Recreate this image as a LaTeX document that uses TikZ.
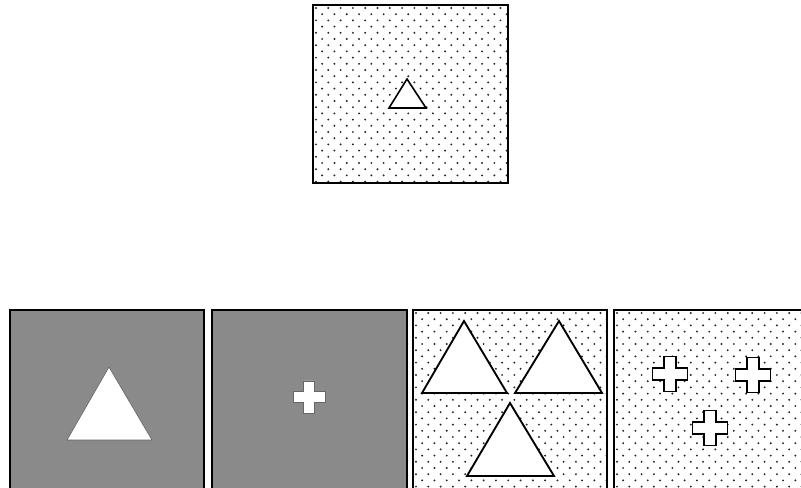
\documentclass[tikz,border=0pt]{standalone}
\begin{document}
\begin{tikzpicture}[x=0.75pt,y=-0.75pt,
  boxline/.style={draw=black,line width=1.4pt},
  graybox/.style={fill=black!46,draw=black,line width=1.4pt},
  outline/.style={draw=black,fill=white,line width=1.4pt,line join=miter},
  whiteshape/.style={fill=white,draw=black!60,line width=0.5pt}]
\useasboundingbox (0,0) rectangle (801,488);
\clip (0,0) rectangle (801,488);
\newcommand\dotbox[4]{%
  \begin{scope}
  \clip (#1,#2) rectangle (#3,#4);
  \foreach \r in {0,...,30}{
    \pgfmathsetmacro\yy{#2+3+\r*6.2}
    \pgfmathsetmacro\off{mod(\r,2)*6.15}
    \foreach \c in {0,...,17}{
      \fill[black!85] ({#1+3+\off+\c*12.3},\yy) circle (0.8pt);
    }
  }
  \end{scope}}
\newcommand\crosspath[4]{% cx cy halflength halfwidth
  ({#1-#4},{#2-#3}) -- ({#1+#4},{#2-#3}) -- ({#1+#4},{#2-#4}) -- ({#1+#3},{#2-#4})
  -- ({#1+#3},{#2+#4}) -- ({#1+#4},{#2+#4}) -- ({#1+#4},{#2+#3}) -- ({#1-#4},{#2+#3})
  -- ({#1-#4},{#2+#4}) -- ({#1-#3},{#2+#4}) -- ({#1-#3},{#2-#4}) -- ({#1-#4},{#2-#4}) -- cycle}
% top box
\dotbox{313}{5}{508}{183}
\draw[boxline] (313,5) rectangle (508,183);
\draw[outline,line width=1.2pt] (407,79) -- (426,108) -- (389,108) -- cycle;
% bottom box 1
\draw[graybox] (10,310) rectangle (204,492);
\fill[whiteshape] (109,367) -- (152,440) -- (67,440) -- cycle;
% bottom box 2
\draw[graybox] (212,310) rectangle (407,492);
\fill[whiteshape] \crosspath{309}{397}{16}{5.5};
% bottom box 3
\dotbox{413}{310}{607}{492}
\draw[boxline] (413,310) rectangle (607,492);
\draw[outline] (464,321) -- (507,393) -- (422,393) -- cycle;
\draw[outline] (559,321) -- (602,393) -- (515,393) -- cycle;
\draw[outline] (510,403) -- (554,476) -- (467,476) -- cycle;
% bottom box 4
\dotbox{614}{310}{805}{492}
\draw[boxline] (614,310) rectangle (805,492);
\draw[outline] \crosspath{670}{374}{17.5}{6};
\draw[outline] \crosspath{753}{375}{17.5}{6};
\draw[outline] \crosspath{710}{428}{17.5}{6};
\end{tikzpicture}
\end{document}
